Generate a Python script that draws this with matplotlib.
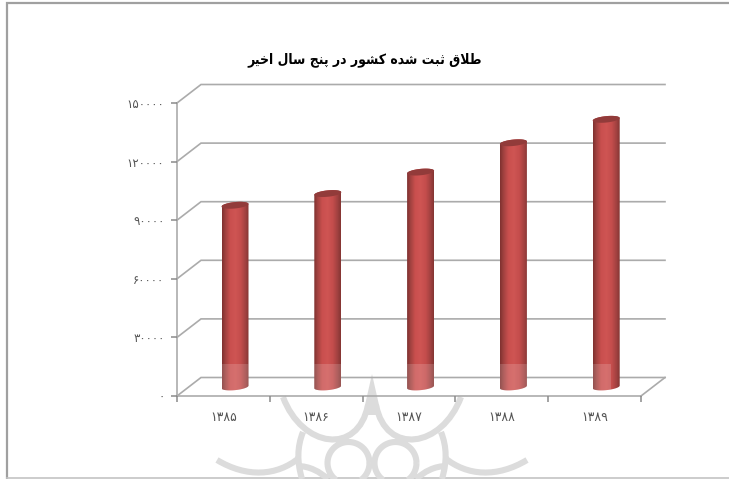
import numpy as np
import matplotlib
matplotlib.use("Agg")
import matplotlib.pyplot as plt
from matplotlib.path import Path
from matplotlib.patches import PathPatch, Rectangle
from matplotlib.colors import LinearSegmentedColormap

# ---- data ----
categories = ["۱۳۸۵", "۱۳۸۶", "۱۳۸۷", "۱۳۸۸", "۱۳۸۹"]
values = [93000, 99000, 110000, 125000, 137000]
y_ticks = [0, 30000, 60000, 90000, 120000, 150000]
y_labels = ["۰", "۳۰۰۰۰", "۶۰۰۰۰", "۹۰۰۰۰", "۱۲۰۰۰۰", "۱۵۰۰۰۰"]
title_text = "طلاق ثبت شده کشور در پنج سال اخیر"
band_fraction = [1, 1, 1, 1, 0.67]

# ---- minimal Persian shaping (matplotlib has no shaper) ----
FORMS = {  # isolated, final, initial, medial
    "ا": "\uFE8D\uFE8E", "د": "\uFEA9\uFEAA", "ر": "\uFEAD\uFEAE", "و": "\uFEED\uFEEE",
    "ب": "\uFE8F\uFE90\uFE91\uFE92", "پ": "\uFB56\uFB57\uFB58\uFB59",
    "ت": "\uFE95\uFE96\uFE97\uFE98", "ث": "\uFE99\uFE9A\uFE9B\uFE9C",
    "ج": "\uFE9D\uFE9E\uFE9F\uFEA0", "خ": "\uFEA5\uFEA6\uFEA7\uFEA8",
    "س": "\uFEB1\uFEB2\uFEB3\uFEB4", "ش": "\uFEB5\uFEB6\uFEB7\uFEB8",
    "ط": "\uFEC1\uFEC2\uFEC3\uFEC4", "ق": "\uFED5\uFED6\uFED7\uFED8",
    "ک": "\uFB8E\uFB8F\uFB90\uFB91", "ل": "\uFEDD\uFEDE\uFEDF\uFEE0",
    "ن": "\uFEE5\uFEE6\uFEE7\uFEE8", "ه": "\uFEE9\uFEEA\uFEEB\uFEEC",
    "ی": "\uFBFC\uFBFD\uFBFE\uFBFF",
}


def shape(text):
    words = []
    for word in text.split(" "):
        out, prev_joins, i = [], False, 0
        while i < len(word):
            ch = word[i]
            if ch == "ل" and i + 1 < len(word) and word[i + 1] == "ا":
                out.append("\uFEFC" if prev_joins else "\uFEFB")
                prev_joins, i = False, i + 2
                continue
            f = FORMS[ch]
            next_exists = i + 1 < len(word)
            can_join = len(f) == 4 and next_exists
            if prev_joins and can_join:
                out.append(f[3])
            elif prev_joins:
                out.append(f[1])
            elif can_join:
                out.append(f[2])
            else:
                out.append(f[0])
            prev_joins, i = can_join, i + 1
        words.append("".join(reversed(out)))
    return " ".join(reversed(words))


W, H = 729, 479
fig = plt.figure(figsize=(W / 100, H / 100), dpi=100, facecolor="white")
plt.rcParams["font.family"] = ["DejaVu Sans"]

# front plane of the plot box, in pixels
L, R, T, B = 177, 641, 103, 396
ax = fig.add_axes([L / W, 1 - B / H, (R - L) / W, (B - T) / H], zorder=2)
ax.set_xlim(-0.5, 4.5)
ax.set_ylim(0, 150000)
ax.patch.set_visible(False)

px_x = 5 / (R - L)
px_y = 150000 / (B - T)
dx, dy = 24 * px_x, 18.5 * px_y
GRID = "#ababab"
LW = 1.2

# walls / gridlines
for v in y_ticks:
    ax.plot([-0.5, -0.5 + dx, 4.5 + dx], [v, v + dy, v + dy], color=GRID, lw=LW,
            clip_on=False, zorder=1, solid_joinstyle="miter")
ax.plot([4.5, 4.5 + dx], [0, dy], color=GRID, lw=LW, clip_on=False, zorder=1)

for s in ["top", "right"]:
    ax.spines[s].set_visible(False)
for s in ["left", "bottom"]:
    ax.spines[s].set_color(GRID)
    ax.spines[s].set_linewidth(LW)
    ax.spines[s].set_zorder(1.5)

ax.set_yticks(y_ticks)
ax.set_yticklabels(y_labels, fontsize=8.5, color="#555555")
ax.tick_params(axis="y", length=4, width=1.1, color="#8a8a8a", pad=5)
ax.set_xticks(np.arange(-0.5, 5, 1))
ax.set_xticklabels([])
ax.set_xticks(np.arange(5), minor=True)
ax.set_xticklabels(categories, minor=True, fontsize=9, color="#555555")
ax.tick_params(axis="x", which="major", length=4, width=1.1, color="#8a8a8a", direction="out")
ax.tick_params(axis="x", which="minor", length=0, pad=11)

# cylinders
cmap = LinearSegmentedColormap.from_list(
    "cyl", [(0, "#7e302f"), (0.12, "#9f413f"), (0.3, "#c94f4e"), (0.5, "#cf5553"),
            (0.7, "#c44d4c"), (0.88, "#a04140"), (1, "#843533")])
grad = np.linspace(0, 1, 128).reshape(1, -1)
half_w = 13.5 * px_x
rx, ry, tilt = half_w, 3.2 * px_y, 1.3 * px_y
t_front = np.linspace(np.pi, 2 * np.pi, 40)
t_back = np.linspace(0, np.pi, 40)
bx, by = 0.125, dy * 0.49


def ell(cx, cy, t):
    return cx + rx * np.cos(t), cy + ry * np.sin(t) + tilt * np.cos(t)


for i, v in enumerate(values):
    cx = i + bx
    x1, y1 = ell(cx, by, t_front)
    x2, y2 = ell(cx, by + v, t_back)
    body = Path(np.column_stack([np.r_[x1, x2], np.r_[y1, y2]]))
    clip = PathPatch(body, fc="none", ec="none", transform=ax.transData)
    ax.add_patch(clip)
    im = ax.imshow(grad, cmap=cmap, extent=(cx - rx, cx + rx, 0, by + v + 2 * ry),
                   aspect="auto", zorder=3, vmin=0, vmax=1, interpolation="bilinear")
    im.set_clip_path(clip)
    tx, ty = ell(cx, by + v, np.linspace(0, 2 * np.pi, 80))
    ax.fill(tx, ty, color="#923b3a", zorder=4, clip_on=False, lw=0)
    band = Rectangle((cx - rx, 0), 2 * rx * band_fraction[i], 16400, fc="white", alpha=0.16,
                     ec="none", zorder=5)
    ax.add_patch(band)
    band.set_clip_path(clip)
ax.set_xlim(-0.5, 4.5)
ax.set_ylim(0, 150000)

# underlay in pixel space: frame and watermark
ov = fig.add_axes([0, 0, 1, 1], zorder=1)
ov.set_xlim(0, W)
ov.set_ylim(H, 0)
ov.axis("off")
ov.plot([7, 7, W], [H, 3, 3], color="#a0a0a0", lw=1.6, solid_joinstyle="miter")
ov.plot([7, W], [478, 478], color="#c4c4c4", lw=1.2)

MID = 372.0
MARK = "#dcdcdc"
verts, codes = [], []


def cubic(p0, p1, p2, p3):
    verts.extend([p0, p1, p2, p3])
    codes.extend([Path.MOVETO, Path.CURVE4, Path.CURVE4, Path.CURVE4])


for sgn in (-1, 1):
    m = lambda x: MID + sgn * x
    cubic((m(89), 397), (m(70), 448), (m(14), 456), (m(4), 405))   # big upper arc
    cubic((m(69), 432), (m(75), 447), (m(75), 462), (m(70), 479))  # outer side
    cubic((m(155), 460), (m(125), 478), (m(95), 476), (m(73), 458))  # lower wing
    cubic((m(75), 466), (m(62), 466), (m(52), 472), (m(44), 479))  # small arc
    c = MID + sgn * 23.5
    th = np.linspace(0, 2 * np.pi, 60)
    ring = np.column_stack([c + 21 * np.cos(th), 463 + 21 * np.sin(th)])
    verts += [tuple(p) for p in ring]
    codes += [Path.MOVETO] + [Path.LINETO] * (len(ring) - 1)
ov.add_patch(PathPatch(Path(verts, codes), fc="none", ec=MARK, lw=4.4, zorder=2, capstyle="butt"))
ov.fill([MID, MID - 7, MID - 8, MID + 8, MID + 7], [374, 405, 415, 415, 405], color=MARK, lw=0, zorder=2)

# title
fig.text(365 / W, 1 - 60 / H, shape(title_text), ha="center", va="center",
         fontsize=10, fontweight="bold", fontstretch="condensed", color="black")

fig.savefig("out.png", dpi=100)
